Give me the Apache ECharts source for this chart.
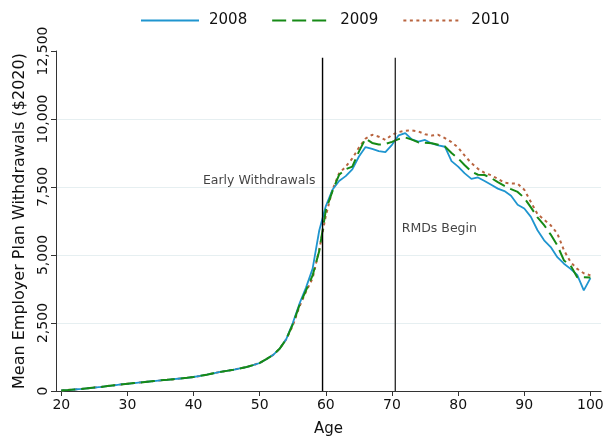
<!DOCTYPE html>
<html>
<head>
<meta charset="utf-8">
<script src="https://cdn.jsdelivr.net/npm/echarts@6/dist/echarts.min.js"></script>
<style>html,body{margin:0;padding:0;background:#fff;}#c{width:607px;height:437px;}</style>
</head>
<body>
<div id="c"></div>
<script>
// ages 20..100
const ages = [20,21,22,23,24,25,26,27,28,29,30,31,32,33,34,35,36,37,38,39,40,41,42,43,44,45,46,47,48,49,50,51,52,53,54,55,56,57,58,59,60,61,62,63,64,65,66,67,68,69,70,71,72,73,74,75,76,77,78,79,80,81,82,83,84,85,86,87,88,89,90,91,92,93,94,95,96,97,98,99,100];

const w2008 = [20,35,55,75,100,125,150,180,210,240,265,290,315,340,365,390,410,435,460,485,515,555,600,650,700,740,780,830,880,950,1030,1170,1320,1550,1900,
  2500,3200,3800,4500,5900,6800,7400,7720,7900,8150,8620,8970,8900,8820,8780,9050,9400,9480,9250,9170,9230,9100,9030,8980,8450,8250,8000,7800,7850,7720,7580,7440,7350,7180,6850,6710,6400,5910,5540,5290,4920,4680,4490,4270,3700,4150];

const w2009 = [20,35,55,75,100,125,150,180,210,240,265,290,315,340,365,390,410,435,460,485,515,555,600,650,700,740,780,830,880,950,1030,1170,1320,1550,1900,
  2450,3150,3700,4250,5150,6650,7350,7950,8150,8250,8800,9280,9120,9060,9080,9160,9260,9320,9240,9140,9130,9110,9050,8990,8750,8550,8300,8070,7950,7940,7830,7680,7540,7420,7320,7100,6750,6380,6100,5750,5350,4800,4620,4180,4180,4170];

const w2010 = [20,35,55,75,100,125,150,180,210,240,265,290,315,340,365,390,410,435,460,485,515,555,600,650,700,740,780,830,880,950,1030,1170,1320,1550,1900,
  2400,3100,3650,4150,5200,6450,7400,8000,8250,8550,8950,9280,9420,9350,9230,9420,9520,9570,9580,9540,9440,9390,9420,9300,9150,8950,8650,8380,8170,8020,7930,7800,7660,7630,7620,7400,6950,6500,6300,6090,5790,5170,4740,4490,4330,4250];

const seriesNames = ['2008','2009','2010'];
const xTicks = [20,30,40,50,60,70,80,90,100];
const yTicks = [0,2500,5000,7500,10000,12500];
const refAges = [59.5, 70.5];
const refTop = 12250;
const notes = [['Early Withdrawals', 58.5, 7720], ['RMDs Begin', 71.4, 5980]];

const pairs = arr => ages.map((a,i)=>[a,arr[i]]);
const fmt = v => v.toLocaleString('en-US');

const chart = echarts.init(document.getElementById('c'), null, {renderer:'canvas'});
const FONT = 'DejaVu Sans';
chart.setOption({
  animation:false,
  textStyle:{fontFamily:FONT},
  grid:{left:56,right:6,top:51,bottom:46,outerBoundsMode:'none',containLabel:false},
  legend:{
    data:seriesNames, left:135, top:8, itemWidth:58, itemHeight:2, itemGap:24,
    itemStyle:{opacity:0},
    textStyle:{fontFamily:FONT,fontSize:15,color:'#111',padding:[0,0,0,5]}
  },
  xAxis:{
    type:'value', min:19.2, max:101.6,
    name:'Age', nameLocation:'middle', nameGap:31,
    nameTextStyle:{fontFamily:FONT,fontSize:15,color:'#111'},
    axisLine:{lineStyle:{color:'#333',width:1}},
    axisTick:{show:true,length:5,customValues:xTicks,lineStyle:{color:'#333'}},
    axisLabel:{customValues:xTicks,fontFamily:FONT,fontSize:14,color:'#111',margin:7},
    splitLine:{show:false}
  },
  yAxis:{
    type:'value', min:0, max:12500, interval:2500,
    name:'Mean Employer Plan Withdrawals ($2020)', nameLocation:'middle', nameGap:28,
    nameTextStyle:{fontFamily:FONT,fontSize:16,color:'#111'},
    axisLine:{show:true,lineStyle:{color:'#333',width:1}},
    axisTick:{show:true,length:5,lineStyle:{color:'#333'}},
    axisLabel:{rotate:90,fontFamily:FONT,fontSize:14,color:'#111',margin:6,formatter:v=>fmt(v)},
    splitLine:{show:true,lineStyle:{color:['transparent','#e6eff1','#e6eff1','#e6eff1','#e6eff1','transparent'],width:1}}
  },
  series:[
    {name:'2008',type:'line',symbol:'none',data:pairs(w2008),z:3,
      lineStyle:{color:'#1f95cf',width:1.8,type:'solid'},itemStyle:{color:'#1f95cf'}},
    {name:'2009',type:'line',symbol:'none',data:pairs(w2009),z:4,
      lineStyle:{color:'#168a16',width:2,type:[14,6]},itemStyle:{color:'#168a16'}},
    {name:'2010',type:'line',symbol:'none',data:pairs(w2010),z:2,
      lineStyle:{color:'#b9643f',width:2,type:[3,3.5]},itemStyle:{color:'#b9643f'}},
    {name:'ref1',type:'line',symbol:'none',data:[[refAges[0],0],[refAges[0],refTop]],z:5,
      lineStyle:{color:'#000',width:1.4},silent:true},
    {name:'ref2',type:'line',symbol:'none',data:[[refAges[1],0],[refAges[1],refTop]],z:5,
      lineStyle:{color:'#333',width:1.4},silent:true},
    {name:'note1',type:'scatter',symbolSize:1,itemStyle:{color:'transparent'},silent:true,
      data:[[notes[0][1],notes[0][2]]],
      label:{show:true,position:'left',distance:0,formatter:notes[0][0],fontFamily:FONT,fontSize:12.5,color:'#111'}},
    {name:'note2',type:'scatter',symbolSize:1,itemStyle:{color:'transparent'},silent:true,
      data:[[notes[1][1],notes[1][2]]],
      label:{show:true,position:'right',distance:0,formatter:notes[1][0],fontFamily:FONT,fontSize:12.5,color:'#111'}}
  ]
});
</script>
</body>
</html>
